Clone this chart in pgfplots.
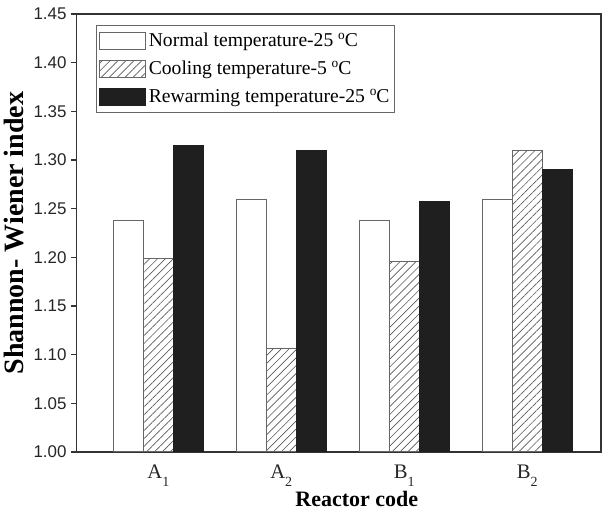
\documentclass[border=0pt]{standalone}
\usepackage{fontspec}
\setmainfont{Liberation Serif}
\newfontfamily\arial{Liberation Sans}
\usepackage{pgfplots}
\pgfplotsset{compat=1.18}
\usetikzlibrary{patterns.meta}
\newcommand{\sub}[1]{\raisebox{-6.5pt}{\fontsize{10.5}{11}\selectfont #1}}
\newcommand{\degc}{\raisebox{5.5pt}{\fontsize{10}{10}\selectfont o}C}
\begin{document}
\begin{tikzpicture}
\begin{axis}[
  scale only axis,
  width=393.4pt, height=328.5pt,
  ybar=0pt, bar width=22.5pt,
  xmin=-0.665, xmax=3.6,
  ymin=1.00, ymax=1.45,
  ytick={1.00,1.05,...,1.45},
  yticklabel style={font=\arial\fontsize{12.7}{14}\selectfont, black!85, /pgf/number format/.cd, fixed, fixed zerofill, precision=2, assume math mode=true},
  ytick pos=left,
  tick align=outside,
  major tick length=4pt,
  ytick style={line width=0.9pt, black!80},
  xtick={0,1,2,3},
  xticklabels={A\sub{1},A\sub{2},B\sub{1},B\sub{2}},
  xticklabel style={font=\fontsize{15.5}{17}\selectfont, yshift=-2pt, black!85},
  xtick style={draw=none},
  axis line style={line width=1.1pt, black!80},
  ylabel={\bfseries Shannon- Wiener index},
  ylabel style={font=\fontsize{21}{24}\selectfont},
  xlabel={\bfseries Reactor code},
  xlabel style={font=\fontsize{16.5}{18}\selectfont, yshift=3.5pt, xshift=13.5pt},
  legend style={at={(0,1)}, anchor=north west, xshift=14.6pt, yshift=-8.25pt,
    draw=black!60, line width=0.7pt, font=\fontsize{14.7}{17}\selectfont,
    row sep=5.4pt, inner xsep=2pt, inner ysep=3.5pt, cells={anchor=west}},
  legend image code/.code={\draw[#1] (0pt,-6.4pt) rectangle (34.5pt,6.4pt);},
  legend columns=1,
]
\addplot[draw=black!60, line width=0.8pt, fill=white] coordinates {(0,1.238) (1,1.259) (2,1.238) (3,1.259)};
\addplot[draw=black!60, line width=0.8pt, pattern={Lines[angle=45,distance=4.2pt,line width=0.5pt]}, pattern color=black!65] coordinates {(0,1.199) (1,1.106) (2,1.196) (3,1.310)};
\addplot[draw=black!88, line width=0.8pt, fill=black!88] coordinates {(0,1.315) (1,1.310) (2,1.257) (3,1.290)};
\legend{Normal temperature-25 \degc, Cooling temperature-5 \degc, Rewarming temperature-25 \degc}
\end{axis}
\pgfresetboundingbox
\path ([xshift=-57.4pt,yshift=-44.5pt]current axis.south west) rectangle ([xshift=5.25pt,yshift=10.5pt]current axis.north east);
\end{tikzpicture}
\end{document}
